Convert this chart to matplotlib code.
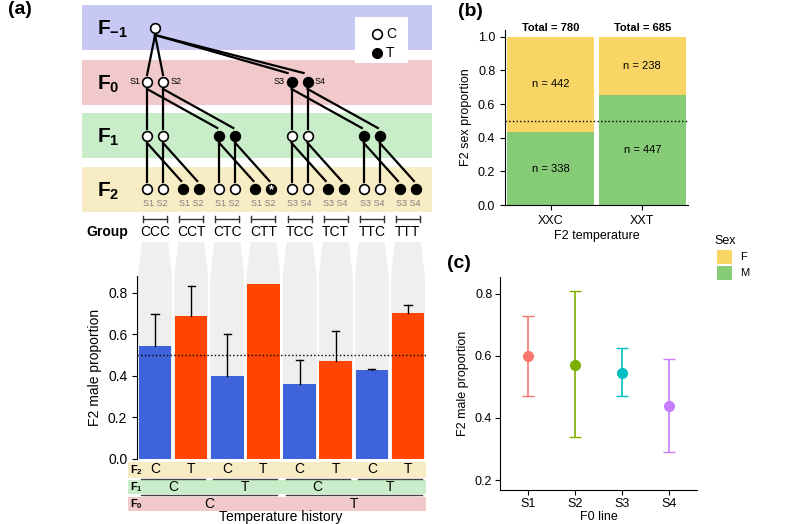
import numpy as np
import matplotlib
matplotlib.use("Agg")
import matplotlib.pyplot as plt
from matplotlib.patches import Rectangle, Polygon

plt.rcParams['font.family'] = ['Liberation Sans', 'DejaVu Sans']
plt.rcParams['mathtext.fontset'] = 'custom'
plt.rcParams['mathtext.bf'] = 'Liberation Sans:bold'
plt.rcParams['mathtext.rm'] = 'Liberation Sans'

# data
groups = ["CCC", "CCT", "CTC", "CTT", "TCC", "TCT", "TTC", "TTT"]
male_prop = [0.545, 0.69, 0.40, 0.84, 0.36, 0.47, 0.43, 0.70]
male_err_top = [0.695, 0.83, 0.60, np.nan, 0.475, 0.615, 0.435, 0.74]
f2_temp = ["C", "T", "C", "T", "C", "T", "C", "T"]
f1_temp = ["C", "T", "C", "T"]
f0_temp = ["C", "T"]
sub_lines = ["S1 S2", "S1 S2", "S1 S2", "S1 S2", "S3 S4", "S3 S4", "S3 S4", "S3 S4"]

b_temps = ["XXC", "XXT"]
b_female = [442, 238]
b_male = [338, 447]

lines_c = ["S1", "S2", "S3", "S4"]
c_mean = [0.60, 0.57, 0.545, 0.44]
c_low = [0.47, 0.34, 0.47, 0.29]
c_high = [0.73, 0.81, 0.625, 0.59]
c_cols = ["#F8766D", "#7CAE00", "#00BFC4", "#C77CFF"]

BLUE, RED = "#3F63DB", "#FF4500"
COL_F, COL_M = "#F9D565", "#86CB76"
W, H = 800, 524

fig = plt.figure(figsize=(8, 5.24), dpi=100)

def ax_px(l, t, r, b):
    return fig.add_axes([l / W, 1 - b / H, (r - l) / W, (b - t) / H])

# overlay in pixel coordinates
ov = ax_px(0, 0, W, H)
ov.set_xlim(0, W); ov.set_ylim(H, 0); ov.axis("off")

BL, BR = 137, 426
def bx(i):
    return BL + (i + 0.5) * (BR - BL) / len(groups)
gx = [bx(i) for i in range(len(groups))]

# generation bands
bands = [(r"$\mathbf{F_{-1}}$", 5, 50, "#C8C8F4"), (r"$\mathbf{F_0}$", 60, 105, "#F1C9CA"),
         (r"$\mathbf{F_1}$", 113, 158, "#C9EDC9"), (r"$\mathbf{F_2}$", 167, 212, "#F8ECC5")]
for lab, t, b, c in bands:
    ov.add_patch(Rectangle((82, t), 350, b - t, color=c, lw=0, zorder=0))
    ov.text(97, (t + b) / 2 + 2, lab, fontsize=15, va="center", ha="left")

# legend box
ov.add_patch(Rectangle((355, 17), 53, 46, color="white", lw=0, zorder=1))
ov.plot([377], [34], "o", ms=7, mfc="white", mec="black", mew=1.2, zorder=2)
ov.plot([377], [53], "o", ms=7, mfc="black", mec="black", zorder=2)
ov.text(386, 34, "C", fontsize=10, va="center")
ov.text(386, 53, "T", fontsize=10, va="center")

def node(x, y, filled, star=False):
    ov.plot([x], [y], "o", ms=7, mfc="black" if filled else "white", mec="black", mew=1.2, zorder=4)
    if star:
        ov.text(x, y + 1.5, "*", color="white", fontsize=9, fontweight="bold", ha="center", va="center", zorder=5)

def link(x1, y1, x2, y2):
    ov.plot([x1, x2], [y1, y2], color="black", lw=1.6, zorder=3)

d = 8
y_m1, y0, y1, y2 = 28, 82, 136, 189
# F2
for i, g in enumerate(groups):
    filled = f2_temp[i] == "T"
    for k in (0, 1):
        node(gx[i] + (2 * k - 1) * d, y2, filled, star=(g == "CTT" and k == 1))
    ov.text(gx[i], 204, sub_lines[i], fontsize=6.5, color="#808080", ha="center", va="center")
    ov.plot([gx[i] - 12, gx[i] + 12], [219, 219], color="#333333", lw=1)
    ov.plot([gx[i] - 12] * 2, [216, 222], color="#333333", lw=1)
    ov.plot([gx[i] + 12] * 2, [216, 222], color="#333333", lw=1)
    ov.text(gx[i], 232, g, fontsize=10, ha="center", va="center")
ov.text(86, 232, "Group", fontsize=10, fontweight="bold", ha="left", va="center")

# F1
f1x = [gx[2 * p] for p in range(4)]
for p in range(4):
    for k in (0, 1):
        x = f1x[p] + (2 * k - 1) * d
        node(x, y1, f1_temp[p] == "T")
        link(x, y1 + 7, gx[2 * p] + (2 * k - 1) * d, y2 - 7)
        link(x, y1 + 7, gx[2 * p + 1] + (2 * k - 1) * d - 2, y2 - 8)
# F0
f0x = [f1x[2 * q] for q in range(2)]
for q in range(2):
    for k in (0, 1):
        x = f0x[q] + (2 * k - 1) * d
        node(x, y0, f0_temp[q] == "T")
        link(x, y0 + 7, f1x[2 * q] + (2 * k - 1) * d, y1 - 7)
        link(x, y0 + 7, f1x[2 * q + 1] + (2 * k - 1) * d - 2, y1 - 8)
        ov.text(x + (2 * k - 1) * 7, y0, f"S{2 * q + k + 1}", fontsize=6.5,
                ha="right" if k == 0 else "left", va="center")
# F-1
node(f0x[0], y_m1, False)
for k in (0, 1):
    link(f0x[0], y_m1 + 7, f0x[0] + (2 * k - 1) * d, y0 - 7)
    link(f0x[0], y_m1 + 7, f0x[1] + (2 * k - 1) * d - 4, y0 - 9)

# gray connectors
for x in gx:
    ov.add_patch(Polygon([(x - 13, 242), (x + 13, 242), (x + 17, 276), (x - 17, 276)],
                         color="#EFEFEF", lw=0, zorder=0))

# bar chart
ax = ax_px(BL, 276, BR, 459)
xs = np.arange(len(groups))
for i in xs:
    ax.axvspan(i - 0.47, i + 0.47, color="#EFEFEF", lw=0, zorder=0)
cols = [BLUE if t == "C" else RED for t in f2_temp]
ax.bar(xs, male_prop, width=0.9, color=cols, zorder=2)
for i in xs:
    if not np.isnan(male_err_top[i]):
        ax.plot([i, i], [male_prop[i], male_err_top[i]], color="black", lw=1, zorder=3)
        ax.plot([i - 0.1, i + 0.1], [male_err_top[i]] * 2, color="black", lw=1, zorder=3)
ax.axhline(0.5, color="black", ls=":", lw=1, zorder=4)
ax.set_xlim(-0.5, 7.5); ax.set_ylim(0, 0.88)
ax.set_yticks([0, 0.2, 0.4, 0.6, 0.8])
ax.set_yticklabels(["0.0", "0.2", "0.4", "0.6", "0.8"], fontsize=10)
ax.set_xticks([])
for s in ("top", "right"):
    ax.spines[s].set_visible(False)
ax.spines["bottom"].set_visible(False)
ax.set_ylabel("F2 male proportion", fontsize=10)

# temperature-history rows
rows = [(r"$\mathbf{F_2}$", 462, 478, "#F8ECC5"), (r"$\mathbf{F_1}$", 480, 494, "#C9EDC9"),
        (r"$\mathbf{F_0}$", 497, 511, "#F1C9CA")]
for lab, t, b, c in rows:
    ov.add_patch(Rectangle((128, t), BR - 128, b - t, color=c, lw=0, zorder=0))
    ov.text(130, (t + b) / 2, lab, fontsize=8, va="center")
for i, t in enumerate(f2_temp):
    ov.text(gx[i], 469, t, fontsize=10, ha="center", va="center")
for p, t in enumerate(f1_temp):
    ov.plot([gx[2 * p] - 14, gx[2 * p + 1] + 14], [479, 479], color="#444444", lw=1)
    ov.text((gx[2 * p] + gx[2 * p + 1]) / 2, 487, t, fontsize=10, ha="center", va="center")
for q, t in enumerate(f0_temp):
    ov.plot([gx[4 * q] - 14, gx[4 * q + 3] + 14], [495, 495], color="#444444", lw=1)
    ov.text((gx[4 * q] + gx[4 * q + 3]) / 2, 504, t, fontsize=10, ha="center", va="center")
ov.text(281, 517, "Temperature history", fontsize=10, ha="center", va="center")

# panel b
axb = ax_px(505, 30, 688, 205)
xb = np.arange(len(b_temps))
tot = np.array(b_female) + np.array(b_male)
pm = np.array(b_male) / tot
axb.bar(xb, pm, width=0.95, color=COL_M)
axb.bar(xb, 1 - pm, bottom=pm, width=0.95, color=COL_F)
for i in xb:
    axb.text(i, pm[i] / 2, f"n = {b_male[i]}", fontsize=8, ha="center", va="center")
    axb.text(i, (1 + pm[i]) / 2, f"n = {b_female[i]}", fontsize=8, ha="center", va="center")
    axb.text(i, 1.02, f"Total = {tot[i]}", fontsize=8, fontweight="bold", ha="center", va="bottom")
axb.axhline(0.5, color="black", ls=":", lw=1)
axb.set_xlim(-0.5, 1.5); axb.set_ylim(0, 1.04)
axb.set_yticks(np.arange(0, 1.01, 0.2))
axb.set_yticklabels([f"{v:.1f}" for v in np.arange(0, 1.01, 0.2)], fontsize=9)
axb.set_xticks(xb); axb.set_xticklabels(b_temps, fontsize=9)
axb.spines[["top", "right"]].set_visible(False)
axb.set_ylabel("F2 sex proportion", fontsize=9)
axb.set_xlabel("F2 temperature", fontsize=9, labelpad=2)

# legend Sex
ov.text(714, 241, "Sex", fontsize=9, va="center")
ov.add_patch(Rectangle((717, 250), 15, 14, color=COL_F, lw=0))
ov.add_patch(Rectangle((717, 266), 15, 14, color=COL_M, lw=0))
ov.text(740, 257, "F", fontsize=8, va="center")
ov.text(740, 273, "M", fontsize=8, va="center")

# panel c
axc = ax_px(500, 277, 697, 490)
xc = np.arange(len(lines_c))
for i in xc:
    axc.errorbar(i, c_mean[i], yerr=[[c_mean[i] - c_low[i]], [c_high[i] - c_mean[i]]],
                 fmt="o", ms=7, color=c_cols[i], capsize=4, lw=1.2)
axc.set_xlim(-0.6, 3.6); axc.set_ylim(0.168, 0.854)
axc.set_yticks([0.2, 0.4, 0.6, 0.8])
axc.set_yticklabels(["0.2", "0.4", "0.6", "0.8"], fontsize=9)
axc.set_xticks(xc); axc.set_xticklabels(lines_c, fontsize=9)
axc.tick_params(pad=2)
axc.spines[["top", "right"]].set_visible(False)
axc.set_ylabel("F2 male proportion", fontsize=9)
axc.set_xlabel("F0 line", fontsize=9, labelpad=1)

# panel labels
ov.text(8, 10, "(a)", fontsize=14, fontweight="bold", va="center")
ov.text(458, 12, "(b)", fontsize=14, fontweight="bold", va="center")
ov.text(447, 264, "(c)", fontsize=14, fontweight="bold", va="center")

fig.savefig("out.png", dpi=100, facecolor="white")
